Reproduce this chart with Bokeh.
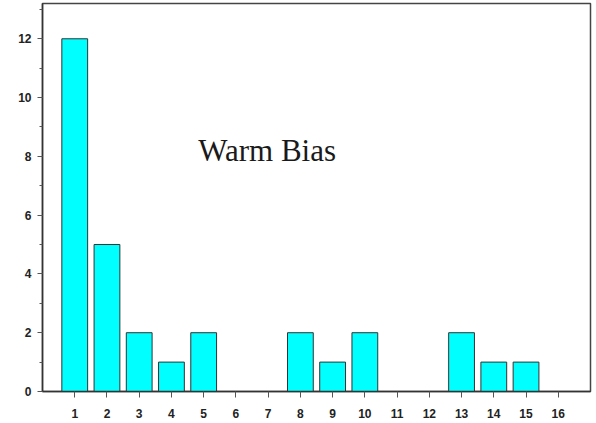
from bokeh.plotting import figure
from bokeh.models import ColumnDataSource, SingleIntervalTicker, FixedTicker, Label, Range1d
from bokeh.embed import file_html
from bokeh.resources import INLINE

categories = list(range(1, 17))
counts = [12, 5, 2, 1, 2, 0, 0, 2, 1, 2, 0, 0, 2, 1, 1, 0]
title_text = "Warm Bias"

src = ColumnDataSource(data=dict(x=categories, top=counts))

p = figure(width=596, height=423, output_backend="svg", toolbar_location=None,
           x_range=Range1d(0, 17), y_range=Range1d(0, 13.2),
           min_border_left=42, min_border_right=6, min_border_top=3, min_border_bottom=32)

p.vbar(x="x", top="top", width=0.8, source=src, fill_color="#00FFFF",
       line_color="#333333", line_width=1)

p.xgrid.visible = False
p.ygrid.visible = False
p.outline_line_color = "#444444"
p.outline_line_width = 1.5
p.background_fill_color = "white"
p.border_fill_color = "white"

p.xaxis.ticker = FixedTicker(ticks=categories)
p.yaxis.ticker = SingleIntervalTicker(interval=2, num_minor_ticks=2)

for ax in (p.xaxis[0], p.yaxis[0]):
    ax.axis_line_color = "#333333"
    ax.axis_line_width = 1.5
    ax.major_tick_line_color = "#555555"
    ax.minor_tick_line_color = "#555555"
    ax.major_tick_in = 0
    ax.minor_tick_in = 0
    ax.major_label_text_font = "Liberation Sans"
    ax.major_label_text_font_style = "bold"
    ax.major_label_text_font_size = "12px"
    ax.major_label_text_color = "#222222"

p.xaxis.major_tick_out = 6
p.xaxis.minor_tick_line_color = None
p.xaxis.major_label_standoff = 11
p.yaxis.major_tick_out = 5
p.yaxis.minor_tick_out = 3
p.yaxis.major_label_standoff = 6

p.add_layout(Label(x=4.83, y=8.2, text=title_text, text_font="Liberation Serif",
                   text_font_size="31px", text_color="#1a1a1a",
                   text_align="left", text_baseline="alphabetic"))

open("out.html", "w").write(file_html(p, INLINE))
